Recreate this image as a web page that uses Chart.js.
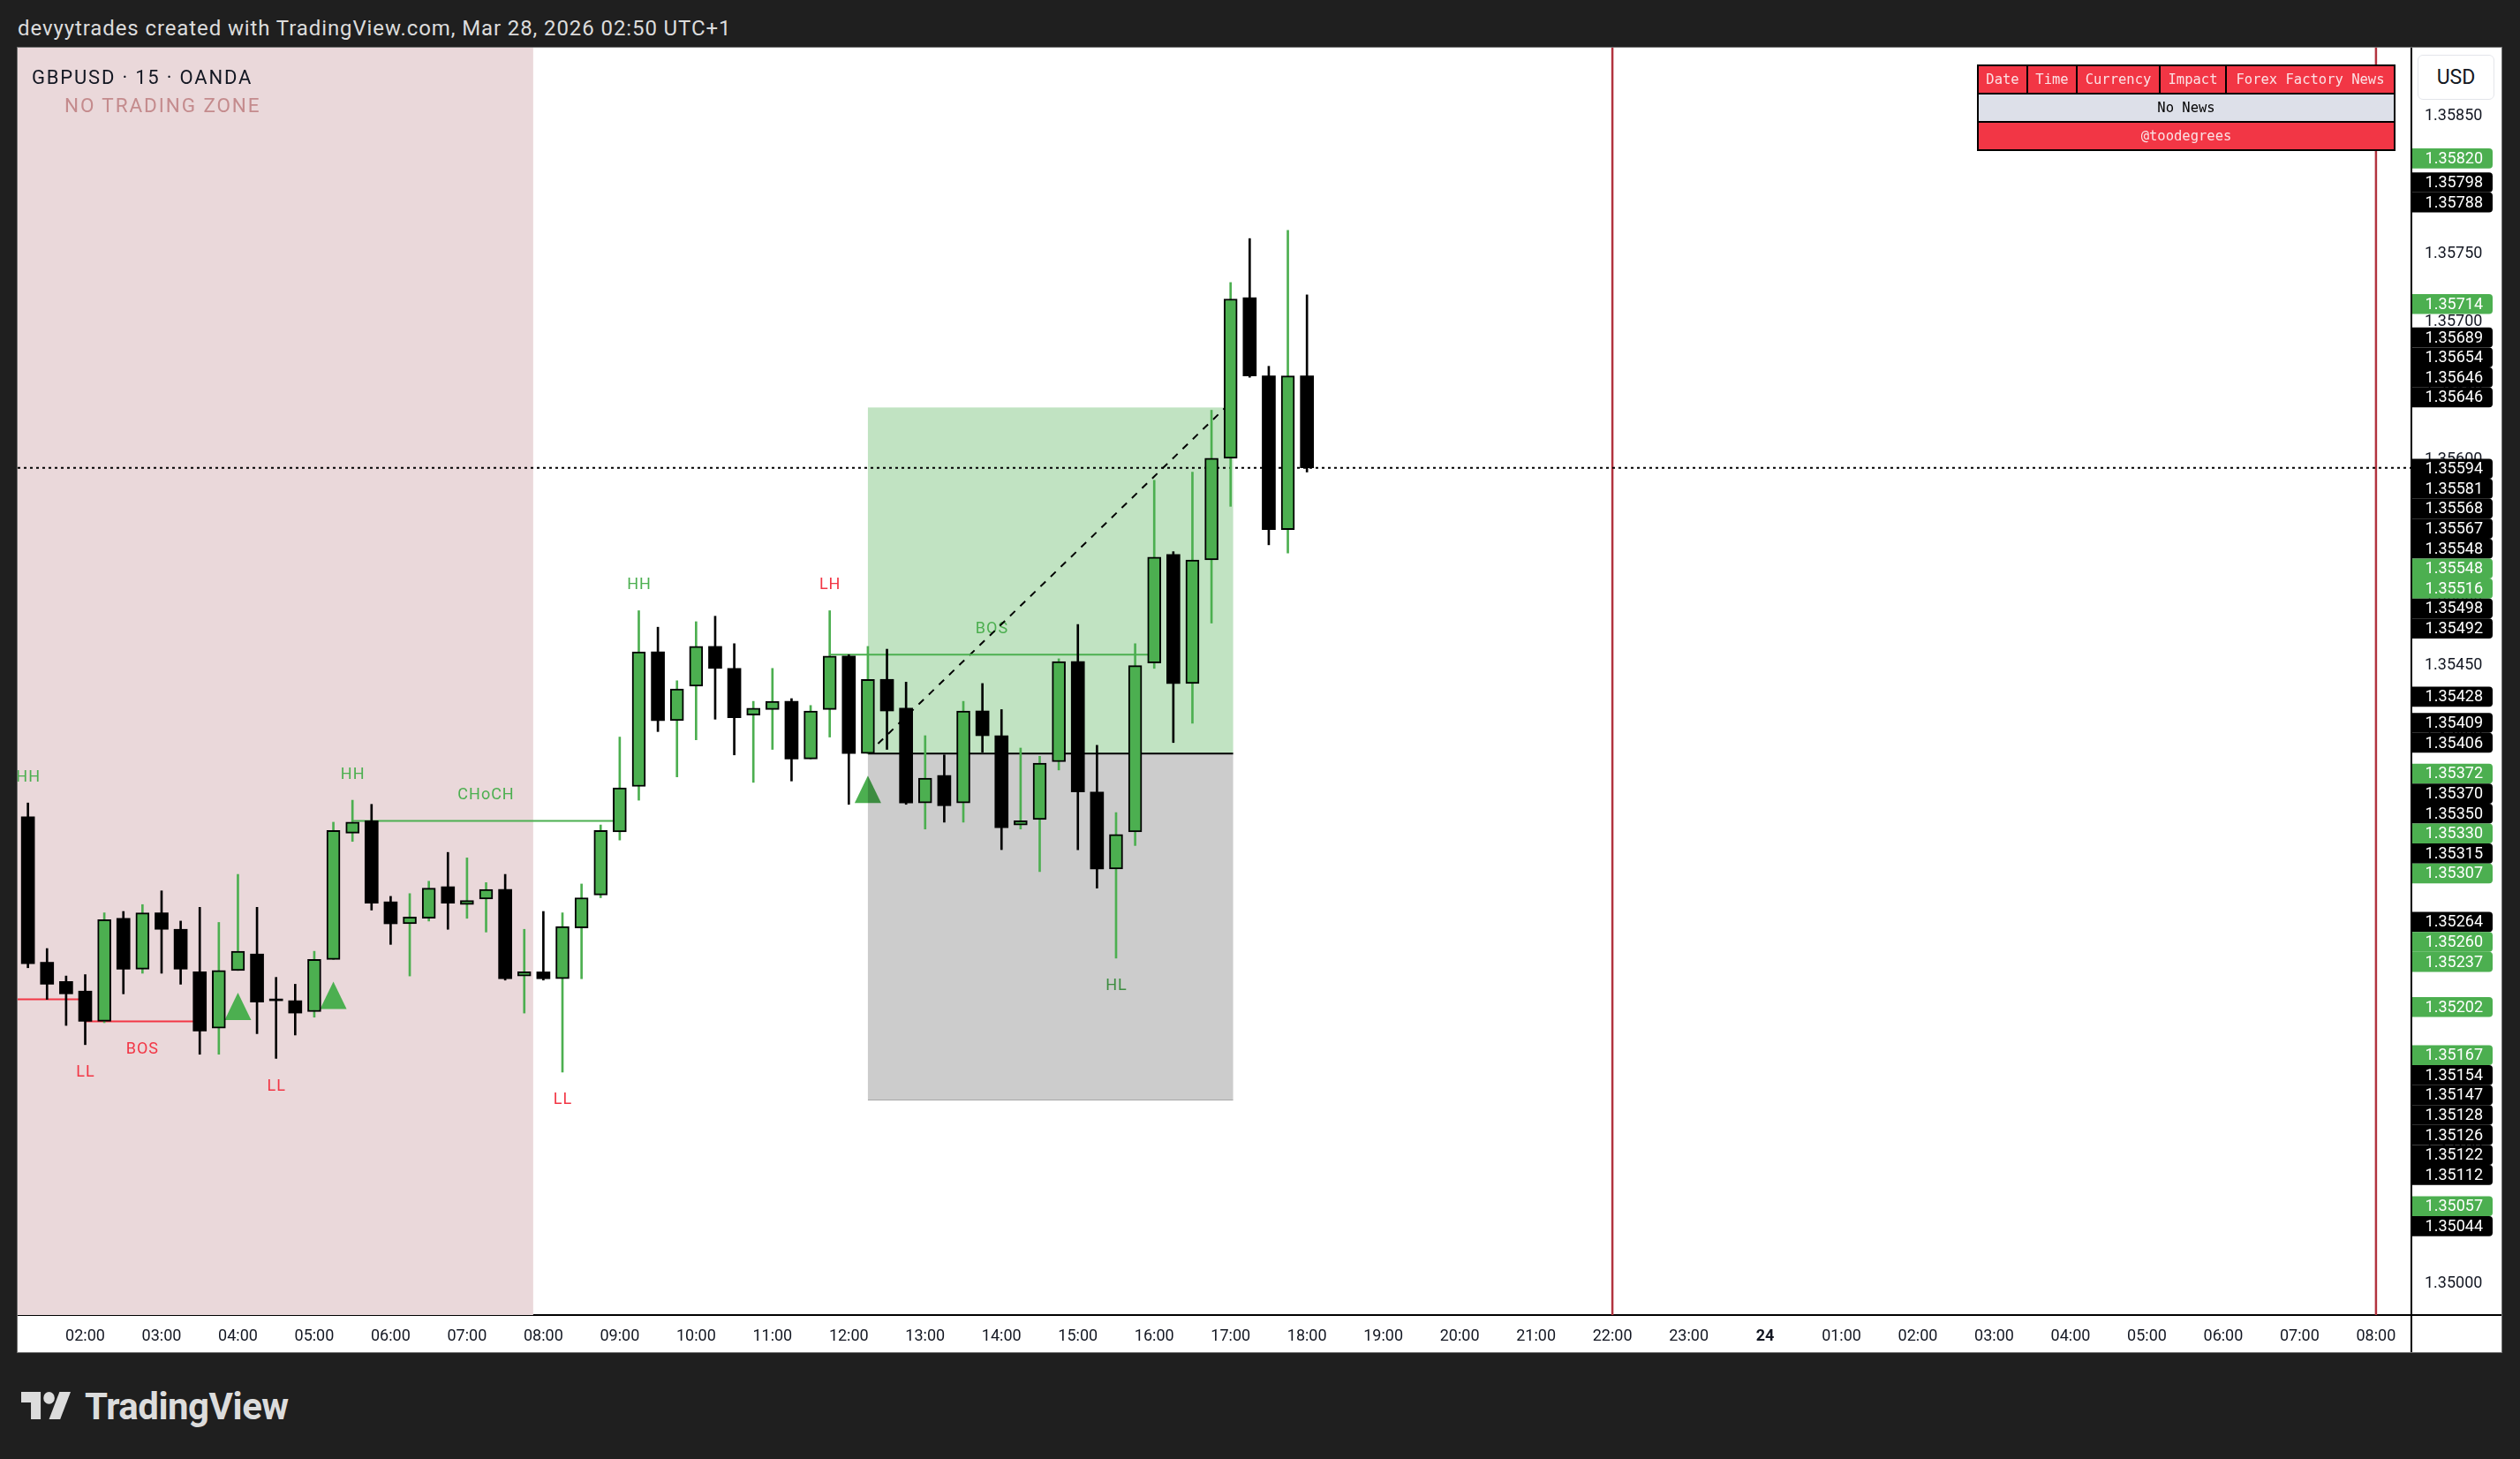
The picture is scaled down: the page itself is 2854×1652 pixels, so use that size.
<!DOCTYPE html>
<html>
<head>
<meta charset="utf-8">
<script src="https://cdn.jsdelivr.net/npm/chart.js@4.4.1/dist/chart.umd.min.js"></script>
<style>
html, body { margin: 0; padding: 0; width: 2854px; height: 1652px; overflow: hidden; background: #1f1f1f; font-family: Roboto, sans-serif; }
#hdr { position: absolute; left: 20px; top: 20px; font-size: 24px; line-height: 24px; color: #dcdcdc; letter-spacing: 0.9px; white-space: nowrap; }
#wrap { position: absolute; left: 20px; top: 54px; width: 2813px; height: 1477px; background: #fff; outline: 1px solid #707070; }
#chart { position: absolute; left: 0; top: 0; }
#sym { position: absolute; left: 16px; top: 23px; font-size: 22px; line-height: 22px; color: #131722; letter-spacing: 1.8px; white-space: nowrap; }
#zone { position: absolute; left: 53px; top: 54px; font-size: 22.5px; line-height: 22.5px; color: #c48b8d; letter-spacing: 1.9px; white-space: nowrap; }
#usd { position: absolute; left: 2718px; top: 8px; width: 85px; height: 49px; border: 1px solid #e3e5ea; border-radius: 6px; font-size: 23px; line-height: 49px; text-align: center; color: #131722; background: #fff; }
#news { position: absolute; left: 2219px; top: 19px; width: 472px; border-collapse: collapse; table-layout: fixed; font-family: "DejaVu Sans Mono", monospace; font-size: 15.5px; }
#news td { border: 2px solid #000; height: 30px; padding: 0; text-align: center; white-space: nowrap; overflow: hidden; }
#news .red td { background: #f23645; color: #fbe2e5; }
#news .gray td { background: #dde0e9; color: #000; }
#logo { position: absolute; left: 24px; top: 1576px; }
#tv { position: absolute; left: 96px; top: 1572px; font-size: 42px; line-height: 42px; font-weight: 700; color: #dcdcdc; letter-spacing: -0.5px; }
</style>
</head>
<body>
<div id="hdr">devyytrades created with TradingView.com, Mar 28, 2026 02:50 UTC+1</div>
<div id="wrap">
  <canvas id="chart" width="2813" height="1477"></canvas>
  <div id="sym">GBPUSD · 15 · OANDA</div>
  <div id="zone">NO TRADING ZONE</div>
  <table id="news">
    <colgroup><col style="width:56px"><col style="width:56px"><col style="width:94px"><col style="width:75px"><col style="width:191px"></colgroup>
    <tr class="red"><td>Date</td><td>Time</td><td>Currency</td><td>Impact</td><td>Forex Factory News</td></tr>
    <tr class="gray"><td colspan="5">No News</td></tr>
    <tr class="red"><td colspan="5">@toodegrees</td></tr>
  </table>
  <div id="usd">USD</div>
</div>
<svg id="logo" width="56" height="31" viewBox="0 4 35.5 18" preserveAspectRatio="none">
  <path d="M14 22H7V11H0V4h14v18z" fill="#dcdcdc"/>
  <circle cx="20" cy="8" r="4" fill="#dcdcdc"/>
  <path d="M28 22h-8l7.5-18h8z" fill="#dcdcdc"/>
</svg>
<div id="tv">TradingView</div>

<script>
// 15 minute candles, GBPUSD
const times = ['01:15','01:30','01:45','02:00','02:15','02:30','02:45','03:00','03:15','03:30','03:45','04:00',
  '04:15','04:30','04:45','05:00','05:15','05:30','05:45','06:00','06:15','06:30','06:45','07:00',
  '07:15','07:30','07:45','08:00','08:15','08:30','08:45','09:00','09:15','09:30','09:45','10:00',
  '10:15','10:30','10:45','11:00','11:15','11:30','11:45','12:00','12:15','12:30','12:45','13:00',
  '13:15','13:30','13:45','14:00','14:15','14:30','14:45','15:00','15:15','15:30','15:45','16:00',
  '16:15','16:30','16:45','17:00','17:15','17:30','17:45','18:00'];
const opens = [1.35340,1.35234,1.35220,1.35213,1.35191,1.35266,1.35229,1.35270,1.35258,1.35227,1.35186,1.35228,
  1.35240,1.35207,1.35206,1.35198,1.35236,1.35328,1.35337,1.35278,1.35262,1.35266,1.35289,1.35276,
  1.35280,1.35287,1.35224,1.35227,1.35222,1.35259,1.35283,1.35329,1.35362,1.35460,1.35410,1.35435,
  1.35464,1.35448,1.35414,1.35418,1.35424,1.35382,1.35418,1.35457,1.35386,1.35440,1.35419,1.35350,
  1.35370,1.35350,1.35417,1.35399,1.35334,1.35338,1.35380,1.35453,1.35358,1.35302,1.35329,1.35452,
  1.35531,1.35437,1.35527,1.35601,1.35718,1.35661,1.35549,1.35661];
const highs = [1.35350,1.35244,1.35224,1.35225,1.35270,1.35271,1.35276,1.35286,1.35264,1.35274,1.35263,1.35298,
  1.35274,1.35223,1.35218,1.35242,1.35336,1.35352,1.35349,1.35282,1.35284,1.35293,1.35314,1.35310,
  1.35292,1.35298,1.35258,1.35271,1.35270,1.35291,1.35334,1.35398,1.35490,1.35478,1.35439,1.35482,
  1.35486,1.35466,1.35424,1.35448,1.35426,1.35421,1.35490,1.35458,1.35464,1.35462,1.35438,1.35399,
  1.35385,1.35424,1.35437,1.35418,1.35390,1.35384,1.35455,1.35480,1.35392,1.35343,1.35466,1.35585,
  1.35533,1.35591,1.35636,1.35729,1.35761,1.35668,1.35767,1.35720];
const lows = [1.35230,1.35207,1.35188,1.35174,1.35190,1.35211,1.35226,1.35226,1.35218,1.35167,1.35167,1.35228,
  1.35182,1.35164,1.35181,1.35194,1.35236,1.35322,1.35272,1.35247,1.35224,1.35264,1.35258,1.35266,
  1.35256,1.35221,1.35197,1.35221,1.35154,1.35222,1.35281,1.35323,1.35352,1.35402,1.35369,1.35396,
  1.35411,1.35385,1.35365,1.35389,1.35366,1.35382,1.35398,1.35349,1.35386,1.35389,1.35349,1.35331,
  1.35336,1.35336,1.35387,1.35316,1.35331,1.35300,1.35374,1.35316,1.35288,1.35237,1.35319,1.35448,
  1.35394,1.35408,1.35481,1.35566,1.35660,1.35538,1.35532,1.35591];
const closes = [1.35233,1.35218,1.35211,1.35191,1.35265,1.35229,1.35270,1.35258,1.35229,1.35184,1.35228,1.35242,
  1.35205,1.35206,1.35197,1.35236,1.35330,1.35336,1.35277,1.35262,1.35267,1.35288,1.35277,1.35279,
  1.35287,1.35222,1.35227,1.35222,1.35260,1.35281,1.35330,1.35361,1.35460,1.35410,1.35433,1.35464,
  1.35448,1.35412,1.35419,1.35424,1.35382,1.35417,1.35457,1.35386,1.35440,1.35417,1.35350,1.35368,
  1.35348,1.35417,1.35399,1.35332,1.35337,1.35379,1.35453,1.35358,1.35302,1.35327,1.35450,1.35529,
  1.35437,1.35527,1.35601,1.35717,1.35661,1.35549,1.35661,1.35594];

// time axis labels, one per hour from 02:00 to 08:00 next day
const timeTickLabels = ['02:00','03:00','04:00','05:00','06:00','07:00','08:00','09:00','10:00','11:00','12:00',
  '13:00','14:00','15:00','16:00','17:00','18:00','19:00','20:00','21:00','22:00','23:00','24',
  '01:00','02:00','03:00','04:00','05:00','06:00','07:00','08:00'];
const priceTicks = [1.35000,1.35050,1.35100,1.35150,1.35200,1.35250,1.35300,1.35350,1.35400,
  1.35450,1.35500,1.35550,1.35600,1.35650,1.35700,1.35750,1.35800,1.35850];

// price scale tags
const tagValues = [1.35820,1.35798,1.35788,1.35714,1.35689,1.35654,1.35646,1.35646,1.35594,1.35581,1.35568,
  1.35567,1.35548,1.35548,1.35516,1.35498,1.35492,1.35428,1.35409,1.35406,1.35372,1.35370,1.35350,
  1.35330,1.35315,1.35307,1.35264,1.35260,1.35237,1.35202,1.35167,1.35154,1.35147,1.35128,1.35126,
  1.35122,1.35112,1.35057,1.35044];
const tagKinds = ['g','b','b','g','b','b','b','b','b','b','b','b','b','g','g','b','b','b','b','b','g','b','b',
  'g','b','g','b','g','g','g','g','b','b','b','b','b','b','g','b'];

// market structure
const swingTimes = ['01:15','02:00','04:30','05:30','08:15','09:15','11:45','15:30'];
const swingTexts = ['HH','LL','LL','HH','LL','HH','LH','HL'];
const structLines = [
  { from: '00:30', to: '02:00', price: 1.35207, color: 'red', text: '' },
  { from: '02:00', to: '03:30', price: 1.35191, color: 'red', text: 'BOS' },
  { from: '05:30', to: '09:00', price: 1.35337, color: 'green', text: 'CHoCH' },
  { from: '11:45', to: '16:00', price: 1.35458, color: 'green', text: 'BOS' }
];
const signalTimes = ['04:00', '05:15', '12:15'];

// long position tool
const posStart = '12:15', posEnd = '17:02', pathEnd = '16:56';
const entryPrice = 1.35386, takeProfit = 1.35638, stopLoss = 1.35134;

const zoneEnd = '07:52';          // end of "no trading zone"
const sessionHours = [22, 32];    // 22:00 and 08:00 next day

const GREEN = '#4caf50', RED = '#f23645';
const X_MIN = 1.1154, X_MAX = 32.4637, Y_MIN = 1.349771, Y_MAX = 1.359000;

const toH = t => { const [h, m] = t.split(':').map(Number); return h + m / 60; };
const isUp = i => closes[i] >= opens[i];
const colorOf = c => c === 'green' ? GREEN : RED;

const bodyData = times.map((t, i) => ({ x: toH(t), y: [opens[i], closes[i]] }));
const wickData = times.map((t, i) => ({ x: toH(t), y: [lows[i], highs[i]] }));
const candleColors = times.map((t, i) => isUp(i) ? GREEN : '#000');

function lineSet(points, color, width, dash) {
    return {
        type: 'line', data: points, borderColor: color, borderWidth: width,
        borderDash: dash || [], pointRadius: 0, fill: false, tension: 0, order: 3
    };
}

const lineSets = structLines.map(l =>
    lineSet([{ x: toH(l.from), y: l.price }, { x: toH(l.to), y: l.price }], colorOf(l.color), 2));
lineSets.push(lineSet([{ x: toH(posStart), y: entryPrice }, { x: toH(posEnd), y: entryPrice }], '#000', 2));
lineSets.push(lineSet([{ x: toH(posStart), y: entryPrice }, { x: toH(pathEnd), y: takeProfit }], '#000', 2, [8, 8]));
lineSets.push(lineSet([{ x: X_MIN, y: closes[closes.length - 1] }, { x: X_MAX, y: closes[closes.length - 1] }], '#000', 2, [3, 4]));
sessionHours.forEach(h => lineSets.push(lineSet([{ x: h, y: Y_MIN }, { x: h, y: Y_MAX }], '#b2343f', 2.5)));

// pink zone, labels, signals and position box under the candles; price tags on top
const overlays = {
    id: 'overlays',
    beforeDatasetsDraw(chart) {
        const { ctx, chartArea: a, scales: { x, y } } = chart;
        ctx.save();
        ctx.beginPath();
        ctx.rect(a.left, a.top, a.right - a.left, a.bottom - a.top);
        ctx.clip();

        ctx.fillStyle = '#ead8da';
        ctx.fillRect(a.left, a.top, x.getPixelForValue(toH(zoneEnd)) - a.left, a.bottom - a.top);

        ctx.font = '18px Roboto';
        ctx.letterSpacing = '1px';
        ctx.textAlign = 'center';
        ctx.textBaseline = 'middle';
        swingTimes.forEach((t, k) => {
            const i = times.indexOf(t);
            const txt = swingTexts[k];
            ctx.fillStyle = txt[0] === 'H' ? GREEN : RED;
            const py = txt[1] === 'H' ? y.getPixelForValue(highs[i]) - 29 : y.getPixelForValue(lows[i]) + 32;
            ctx.fillText(txt, x.getPixelForValue(toH(t)) + 0.5, py);
        });
        structLines.forEach(l => {
            if (!l.text) return;
            ctx.fillStyle = colorOf(l.color);
            const mx = (x.getPixelForValue(toH(l.from)) + x.getPixelForValue(toH(l.to))) / 2;
            const py = y.getPixelForValue(l.price) + (l.color === 'red' ? 32 : -29);
            ctx.fillText(l.text, mx, py);
        });

        ctx.fillStyle = GREEN;
        signalTimes.forEach(t => {
            const i = times.indexOf(t);
            const cx = x.getPixelForValue(toH(t));
            const top = y.getPixelForValue(lows[i]) + 25;
            ctx.beginPath();
            ctx.moveTo(cx, top);
            ctx.lineTo(cx + 15, top + 31);
            ctx.lineTo(cx - 15, top + 31);
            ctx.closePath();
            ctx.fill();
        });

        const x0 = x.getPixelForValue(toH(posStart)), x1 = x.getPixelForValue(toH(posEnd));
        const yt = y.getPixelForValue(takeProfit), ye = y.getPixelForValue(entryPrice), ys = y.getPixelForValue(stopLoss);
        ctx.fillStyle = 'rgba(76,175,80,0.35)';
        ctx.fillRect(x0, yt, x1 - x0, ye - yt);
        ctx.fillStyle = 'rgba(0,0,0,0.2)';
        ctx.fillRect(x0, ye, x1 - x0, ys - ye);
        ctx.strokeStyle = '#a6a6a6';
        ctx.lineWidth = 1;
        ctx.beginPath();
        ctx.moveTo(x0, ys + 0.5);
        ctx.lineTo(x1, ys + 0.5);
        ctx.stroke();
        ctx.restore();
    },
    afterDraw(chart) {
        const { ctx, chartArea: a, scales: { y } } = chart;
        ctx.save();
        ctx.strokeStyle = '#000';
        ctx.lineWidth = 2;
        ctx.beginPath();
        ctx.moveTo(a.right, a.bottom);
        ctx.lineTo(a.right, chart.height);
        ctx.moveTo(a.right, a.bottom);
        ctx.lineTo(chart.width, a.bottom);
        ctx.stroke();

        // stack the tags outward from the last price, like the price scale does
        const h = 22.6;
        const tags = tagValues.map((v, i) => ({ v, k: tagKinds[i], py: y.getPixelForValue(v) }));
        const last = closes[closes.length - 1];
        const anchor = tags.findIndex(t => Math.abs(t.v - last) < 1e-7);
        for (let i = anchor - 1; i >= 0; i--) tags[i].py = Math.min(tags[i].py, tags[i + 1].py - h);
        for (let i = anchor + 1; i < tags.length; i++) tags[i].py = Math.max(tags[i].py, tags[i - 1].py + h);

        ctx.font = '18px Roboto';
        ctx.textAlign = 'right';
        ctx.textBaseline = 'middle';
        tags.forEach(t => {
            ctx.fillStyle = t.k === 'g' ? GREEN : '#000';
            ctx.beginPath();
            ctx.roundRect(a.right + 1, t.py - h / 2 + 1, 91, h, [0, 4, 4, 0]);
            ctx.fill();
            ctx.fillStyle = '#fff';
            ctx.fillText(t.v.toFixed(5), a.right + 81, t.py + 2);
        });
        ctx.restore();
    }
};

document.fonts.ready.then(() => {
    new Chart(document.getElementById('chart'), {
        type: 'bar',
        data: {
            datasets: [
                {
                    label: 'body', data: bodyData, order: 1, grouped: false,
                    barThickness: 15, minBarLength: 2,
                    backgroundColor: candleColors, borderColor: '#000',
                    borderWidth: times.map((t, i) => isUp(i) ? 2 : 0), borderSkipped: false
                },
                {
                    label: 'wick', data: wickData, order: 2, grouped: false,
                    barThickness: 2, backgroundColor: candleColors, borderWidth: 0
                },
                ...lineSets
            ]
        },
        options: {
            responsive: false,
            devicePixelRatio: 1,
            animation: false,
            layout: { padding: 0, autoPadding: false },
            plugins: { legend: { display: false }, tooltip: { enabled: false } },
            scales: {
                x: {
                    type: 'linear', min: X_MIN, max: X_MAX, offset: false,
                    grid: { display: false, drawTicks: false, offset: false },
                    border: { color: '#000', width: 2 },
                    afterBuildTicks: s => { s.ticks = timeTickLabels.map((l, i) => ({ value: i + 2 })); },
                    afterFit: s => { s.height = 42; s.paddingLeft = 0; s.paddingRight = 0; },
                    ticks: {
                        autoSkip: false, maxRotation: 0, padding: 14, color: '#131722',
                        font: c => ({ family: 'Roboto', size: 18, weight: c.tick && c.tick.value === 24 ? 'bold' : 'normal' }),
                        callback: v => timeTickLabels[v - 2]
                    }
                },
                y: {
                    type: 'linear', position: 'right', min: Y_MIN, max: Y_MAX,
                    grid: { display: false, drawTicks: false },
                    border: { color: '#000', width: 2 },
                    afterBuildTicks: s => { s.ticks = priceTicks.map(v => ({ value: v })); },
                    afterFit: s => { s.width = 102; s.paddingTop = 0; s.paddingBottom = 0; },
                    ticks: { padding: 15, color: '#131722', font: { family: 'Roboto', size: 18 }, callback: v => v.toFixed(5) }
                }
            }
        },
        plugins: [overlays]
    });
});
</script>
</body>
</html>
